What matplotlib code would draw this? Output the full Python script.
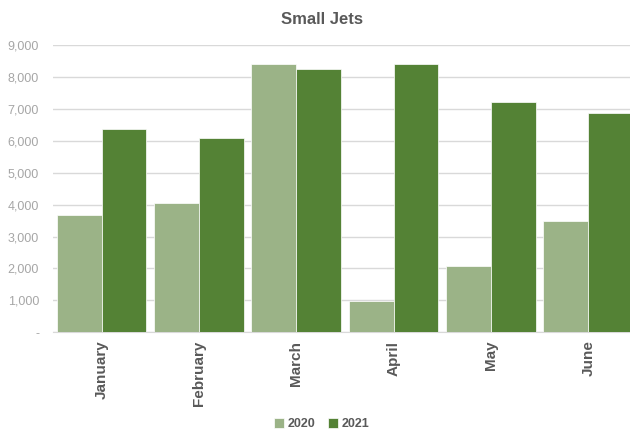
import matplotlib
matplotlib.use("Agg")
import matplotlib.pyplot as plt
import numpy as np
from matplotlib.ticker import FuncFormatter

months = ["January", "February", "March", "April", "May", "June"]
series_names = ["2020", "2021"]
v2020 = [3680, 4040, 8400, 980, 2090, 3480]
v2021 = [6390, 6090, 8250, 8400, 7210, 6870]
yticks = [0, 1000, 2000, 3000, 4000, 5000, 6000, 7000, 8000, 9000]

c2020 = "#9bb387"
c2021 = "#548235"

plt.rcParams['font.family'] = ['Liberation Sans', 'DejaVu Sans']
fig = plt.figure(figsize=(6.3, 4.32), dpi=100)
ax = fig.add_axes([0.084, 0.231, 0.927, 0.664])

x = np.arange(len(months))
w = 0.46
ax.bar(x - w/2, v2020, width=w, color=c2020, edgecolor="white", linewidth=0.5, label=series_names[0], zorder=3)
ax.bar(x + w/2, v2021, width=w, color=c2021, edgecolor="white", linewidth=0.5, label=series_names[1], zorder=3)

ax.set_xlim(-0.5, len(months) - 0.5)
ax.set_ylim(0, 9000)
ax.set_yticks(yticks)
ax.yaxis.set_major_formatter(FuncFormatter(lambda v, p: "-" if v == 0 else f"{int(v):,}"))
ax.grid(axis="y", color="#d9d9d9", linewidth=1, zorder=0)
for s in ["top", "right", "left"]:
    ax.spines[s].set_visible(False)
ax.spines["bottom"].set_color("#d9d9d9")
ax.tick_params(axis="y", length=0, labelsize=9, labelcolor="#a6a6a6", pad=10)
ax.tick_params(axis="x", length=0, labelsize=11, labelcolor="#595959", pad=6)
ax.set_xticks(x)
ax.set_xticklabels(months, rotation=90, fontweight="bold")

fig.text(0.511, 0.955, "Small Jets", ha="center", va="center", fontsize=12, fontweight="bold", color="#595959")

leg = fig.legend(loc="center", bbox_to_anchor=(0.511, 0.018), ncol=2, frameon=False,
                 fontsize=9, handlelength=0.8, handleheight=0.8, handletextpad=0.3, columnspacing=1.0)
for t in leg.get_texts():
    t.set_color("#595959")
    t.set_fontweight("bold")

fig.savefig("out.png", dpi=100)
